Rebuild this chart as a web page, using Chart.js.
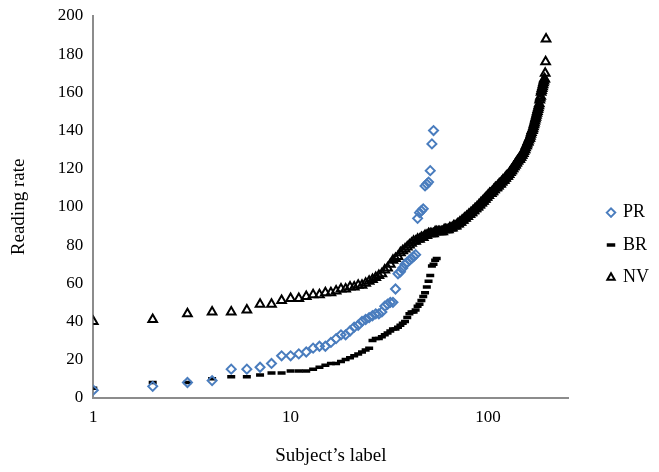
<!DOCTYPE html>
<html>
<head>
<meta charset="utf-8">
<script src="https://cdn.jsdelivr.net/npm/chart.js@4.4.0/dist/chart.umd.min.js"></script>
<style>
  html, body { margin: 0; padding: 0; background: #fff; }
</style>
</head>
<body>
<canvas id="readingChart" width="659" height="472"></canvas>
<script>
// x ticks (log axis) and y ticks
const xTicks = [1, 10, 100];
const yMin = 0, yMax = 200, yStep = 20;

// sorted reading rates, plotted against subject label 1..N
const prValues = [4, 6, 8, 9, 15, 15, 16, 18, 22, 22,
  23, 24, 26, 27, 27, 29, 31, 33, 33, 35,
  37, 38, 40, 41, 42, 43, 44, 44, 45, 48,
  49, 50, 50, 57, 65, 66, 68, 70, 71, 72,
  73, 74, 75, 94, 97, 98, 99, 111, 112, 113,
  119, 133, 140];

const brValues = [5, 8, 8, 10, 11, 11, 12, 13, 13, 14,
  14, 14, 15, 16, 17, 18, 18, 19, 20, 21,
  22, 23, 24, 25, 26, 30, 31, 31, 32, 33,
  34, 35, 36, 36, 37, 38, 39, 40, 42, 44,
  45, 45, 46, 48, 49, 51, 53, 55, 58, 61,
  64, 69, 70, 72, 73];

const nvValues = [40, 41, 44, 45, 45, 46, 49, 49, 51, 52,
  52, 53, 54, 54, 55, 55, 56, 57, 57, 58,
  58, 59, 59, 60, 61, 62, 63, 64, 65, 67,
  68, 70, 72, 73, 74, 76, 77, 78, 79, 80,
  81, 82, 82, 83, 83, 84, 84, 85, 85, 86,
  86, 86, 86, 87, 87, 87, 87, 87, 87, 88,
  88, 88, 88, 89, 89, 89, 90, 90, 90, 91,
  91, 92, 92, 93, 93, 94, 94, 95, 95, 96,
  96, 97, 97, 98, 98, 99, 99, 100, 100, 101,
  101, 102, 102, 103, 103, 104, 104, 105, 105, 106,
  106, 107, 107, 107, 108, 108, 109, 109, 110, 110,
  110, 111, 111, 112, 112, 112, 113, 113, 114, 114,
  114, 115, 115, 116, 116, 116, 117, 117, 118, 118,
  119, 119, 120, 120, 121, 121, 122, 122, 123, 123,
  124, 124, 125, 125, 125, 126, 126, 127, 127, 128,
  128, 129, 130, 130, 131, 132, 132, 133, 134, 134,
  135, 136, 136, 137, 138, 139, 140, 140, 141, 142,
  143, 144, 145, 146, 147, 148, 149, 150, 151, 152,
  153, 154, 156, 157, 158, 160, 161, 162, 163, 164,
  165, 166, 167, 167, 170, 176, 188];

const serif = "'Liberation Serif', 'Times New Roman', serif";

function toPoints(values) {
  return values.map((v, i) => ({ x: i + 1, y: v }));
}

const ctx = document.getElementById("readingChart").getContext("2d");

const data = {
  datasets: [
    {
      label: "PR",
      data: toPoints(prValues),
      pointStyle: "rectRot",
      pointRadius: 4.5,
      pointBorderWidth: 2,
      pointBorderColor: "#4a7dbe",
      pointBackgroundColor: "rgba(0,0,0,0)",
    },
    {
      label: "BR",
      data: toPoints(brValues),
      pointStyle: "line",
      pointRadius: 4,
      pointBorderWidth: 3.5,
      pointBorderColor: "#000",
      pointBackgroundColor: "#000",
    },
    {
      label: "NV",
      data: toPoints(nvValues),
      pointStyle: "triangle",
      pointRadius: 5,
      pointBorderWidth: 2,
      pointBorderColor: "#000",
      pointBackgroundColor: "rgba(0,0,0,0)",
    },
  ],
};

const config = {
  type: "scatter",
  data: data,
  options: {
    responsive: false,
    animation: false,
    layout: { padding: { top: 0, right: 0, left: 8, bottom: 5 } },
    plugins: {
      tooltip: { enabled: false },
      legend: {
        position: "right",
        // empty title only nudges the legend items down a little
        title: { display: true, text: " ", font: { size: 1 }, padding: { top: 22, bottom: 0 } },
        labels: {
          usePointStyle: true,
          boxWidth: 6,
          boxHeight: 6,
          padding: 14.5,
          color: "#000",
          font: { family: serif, size: 18 },
        },
      },
    },
    scales: {
      x: {
        type: "logarithmic",
        min: 1,
        max: 256,
        afterBuildTicks: (axis) => {
          axis.ticks = xTicks.map((v) => ({ value: v }));
        },
        grid: { display: false, drawTicks: false, tickLength: 0 },
        border: { display: true, color: "#8c8c8c", width: 2 },
        ticks: {
          color: "#000",
          font: { family: serif, size: 17 },
          padding: 10,
          autoSkip: false,
          maxRotation: 0,
          callback: (v) => String(v),
        },
        title: {
          display: true,
          text: "Subject\u2019s label",
          color: "#000",
          font: { family: serif, size: 19 },
          padding: { top: 6, bottom: 0 },
        },
      },
      y: {
        min: yMin,
        max: yMax,
        afterFit: (scale) => { scale.paddingTop = 16; },
        grid: { display: false, drawTicks: false, tickLength: 0 },
        border: { display: true, color: "#8c8c8c", width: 2 },
        ticks: {
          stepSize: yStep,
          color: "#000",
          font: { family: serif, size: 17 },
          padding: 10,
        },
        title: {
          display: true,
          text: "Reading rate",
          color: "#000",
          font: { family: serif, size: 19 },
          padding: { top: 0, bottom: 17 },
        },
      },
      // blank axis on the right, keeps the gap before the legend
      gap: {
        position: "right",
        display: true,
        grid: { display: false, drawTicks: false },
        border: { display: false },
        ticks: { display: false },
        afterFit: (scale) => { scale.width = 25; },
      },
    },
  },
};

new Chart(ctx, config);
</script>
</body>
</html>
